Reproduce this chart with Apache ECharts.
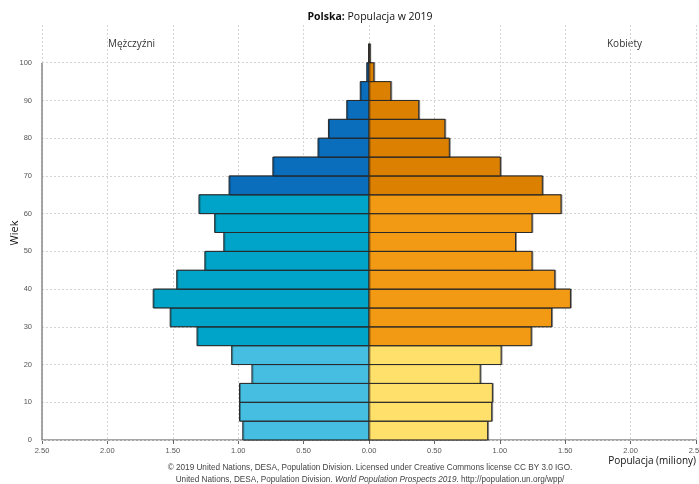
<!DOCTYPE html>
<html><head><meta charset="utf-8">
<script src="https://cdn.jsdelivr.net/npm/echarts@6/dist/echarts.min.js"></script>
<style>html,body{margin:0;padding:0;background:#fff}#c{width:699px;height:484px}</style>
</head><body><div id="c"></div>
<script>
// Age groups (start of 5-year band), 100 = 100+
const ageStarts = [0,5,10,15,20,25,30,35,40,45,50,55,60,65,70,75,80,85,90,95,100];
// Population in millions
const male   = [0.965,0.99,0.99,0.895,1.05,1.315,1.52,1.65,1.47,1.255,1.11,1.18,1.30,1.07,0.735,0.39,0.31,0.17,0.067,0.017,0.003];
const female = [0.907,0.938,0.943,0.85,1.01,1.24,1.396,1.54,1.42,1.246,1.12,1.246,1.468,1.325,1.004,0.614,0.58,0.38,0.167,0.037,0.006];
const xTicks = [-2.5,-2,-1.5,-1,-0.5,0,0.5,1,1.5,2,2.5];
const yTicks = [0,10,20,30,40,50,60,70,80,90,100];
const titleBold = 'Polska:';
const titleRest = ' Populacja w 2019';
const maleLabel = 'Mężczyźni';
const femaleLabel = 'Kobiety';
const yName = 'Wiek';

const maleColors = {young:'#45BEE2', mid:'#00A4C8', old:'#0A6EBC'};
const femaleColors = {young:'#FFE06B', mid:'#F29A14', old:'#DC8002'};
function band(a){ return a < 25 ? 'young' : (a < 65 ? 'mid' : 'old'); }

function renderBar(params, api){
  const v = api.value(0), a = api.value(1);
  const p0 = api.coord([0, a]);
  const p1 = api.coord([v, a + 5]);
  return {
    type:'rect',
    shape:{x:Math.min(p0[0],p1[0]), y:p1[1], width:Math.abs(p1[0]-p0[0]), height:p0[1]-p1[1]},
    style:{fill:api.visual('color'), stroke:'#2a2a2a', lineWidth:1,
           shadowColor:'rgba(0,0,0,0.35)', shadowOffsetX:1, shadowOffsetY:0, shadowBlur:0}
  };
}

const maleData = ageStarts.map((a,i)=>({value:[-male[i], a], itemStyle:{color:maleColors[band(a)]}}));
const femaleData = ageStarts.map((a,i)=>({value:[female[i], a], itemStyle:{color:femaleColors[band(a)]}}));

const chart = echarts.init(document.getElementById('c'), null, {renderer:'canvas'});
chart.setOption({
  animation:false,
  backgroundColor:'#fff',
  grid:{left:42, right:3, top:25, bottom:44, containLabel:false, outerBoundsMode:'none'},
  xAxis:{
    type:'value', min:-2.5, max:2.5, interval:0.5,
    name:'Populacja (miliony)', nameLocation:'end', nameGap:0,
    nameTextStyle:{fontFamily:'Open Sans',fontSize:10,color:'#111',align:'right',verticalAlign:'top',padding:[16,0,0,0]},
    axisLine:{show:true,lineStyle:{color:'#888',width:1.5}},
    axisTick:{show:true,length:4,lineStyle:{color:'#666'}},
    axisLabel:{fontFamily:'Liberation Sans',fontSize:7.5,color:'#555',margin:7,hideOverlap:false,
      formatter:v=>Math.abs(v).toFixed(2)},
    splitLine:{show:true,lineStyle:{color:'#d4d4d4',type:[2,2],width:1}}
  },
  yAxis:{
    type:'value', min:0, max:110, interval:10,
    axisLine:{show:false}, axisTick:{show:false},
    axisLabel:{fontFamily:'Liberation Sans',fontSize:7.5,color:'#555',margin:10,
      formatter:v=> v>100 ? '' : String(v)},
    splitLine:{show:false}
  },
  series:[
    {
      type:'line', data:[], silent:true,
      markLine:{
        silent:true, symbol:'none', label:{show:false},
        lineStyle:{color:'#d4d4d4',type:[2,2],width:1},
        data: yTicks.map(t=>[{coord:[-2.5,t]},{coord:[2.5,t]}])
      }
    },
    {
      type:'line', data:[], silent:true,
      markLine:{
        silent:true, symbol:'none', label:{show:false},
        lineStyle:{color:'#888',type:'solid',width:1.5},
        data:[[{coord:[-2.5,0]},{coord:[-2.5,100]}]]
      }
    },
    {type:'custom', name:maleLabel, renderItem:renderBar, encode:{x:0,y:1}, data:maleData, z:5},
    {type:'custom', name:femaleLabel, renderItem:renderBar, encode:{x:0,y:1}, data:femaleData, z:5}
  ],
  graphic:[
    {type:'text', x:370, y:12, style:{
      text:'{b|'+titleBold+'}{n|'+titleRest+'}', align:'center',
      rich:{
        b:{fontFamily:'Open Sans',fontWeight:'bold',fontSize:10.5,fill:'#111'},
        n:{fontFamily:'Open Sans',fontWeight:'normal',fontSize:10.5,fill:'#111'}
      }}},
    {type:'text', x:15, y:233, rotation:Math.PI/2, style:{
      text:yName, fontFamily:'Open Sans', fontSize:11, fill:'#111', align:'center', verticalAlign:'middle'}},
    {type:'text', left:108, top:39, style:{text:maleLabel, fontFamily:'Open Sans', fontSize:10, fill:'#333'}},
    {type:'text', left:607, top:39, style:{text:femaleLabel, fontFamily:'Open Sans', fontSize:10, fill:'#333'}},
    {type:'text', x:370, y:464, style:{
      text:'© 2019 United Nations, DESA, Population Division. Licensed under Creative Commons license CC BY 3.0 IGO.',
      fontFamily:'Liberation Sans', fontSize:8.2, fill:'#444', align:'center'}},
    {type:'text', x:370, y:476, style:{
      text:'{n|United Nations, DESA, Population Division. }{i|World Population Prospects 2019}{n|. http://population.un.org/wpp/}',
      align:'center',
      rich:{
        n:{fontFamily:'Liberation Sans', fontSize:8.2, fill:'#444'},
        i:{fontFamily:'Liberation Sans', fontSize:8.2, fontStyle:'italic', fill:'#444'}
      }}}
  ]
});
</script>
</body></html>
